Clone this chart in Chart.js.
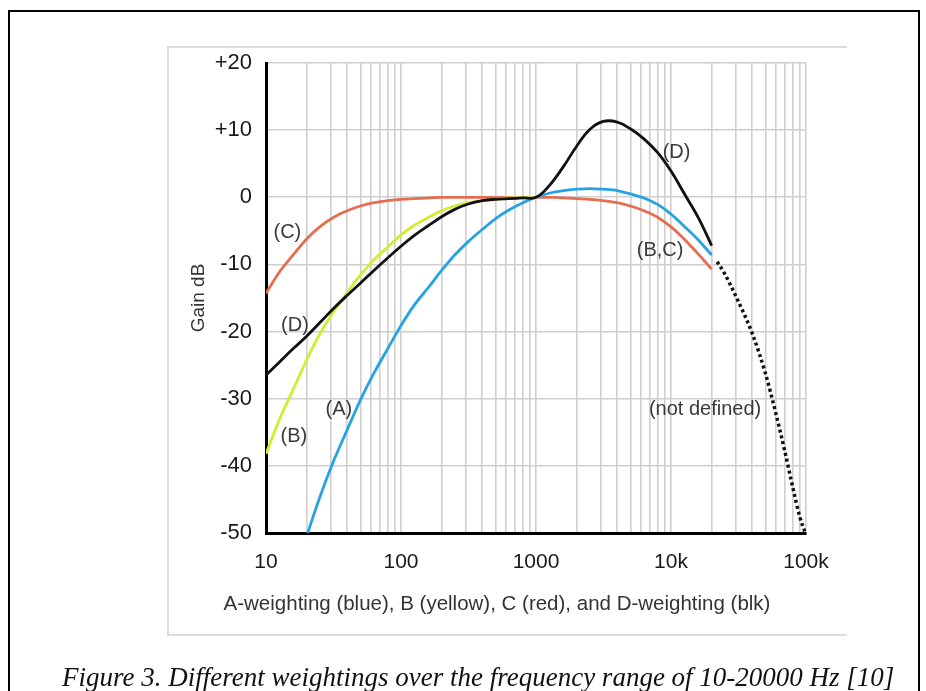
<!DOCTYPE html>
<html>
<head>
<meta charset="utf-8">
<title>Weighting curves</title>
<script src="https://cdn.jsdelivr.net/npm/chart.js@4.4.1/dist/chart.umd.min.js"></script>
<style>
  html, body { margin: 0; padding: 0; background: #fff; overflow: hidden; }
  #frame { position: absolute; left: 8px; top: 10px; width: 908px; height: 720px; border: 2px solid #000; border-bottom: none; }
  #panel { position: absolute; left: 167px; top: 46px; width: 678px; height: 586px; border: 2px solid #dcdcdc; border-right: none; }
  #caption { position: absolute; left: 62px; top: 662px; font: italic 27px "Liberation Serif", "Times New Roman", serif; color: #111; white-space: nowrap; }
  canvas { position: absolute; left: 0; top: 0; }
</style>
</head>
<body>
<div id="frame"></div>
<div id="panel"></div>
<canvas id="weightChart" width="926" height="691"></canvas>
<div id="caption">Figure 3. Different weightings over the frequency range of 10-20000 Hz [10]</div>
<script>
// third-octave frequencies (Hz) and gains (dB)
const freqs = [10, 12.5, 16, 20, 25, 31.5, 40, 50, 63, 80, 100, 125, 160, 200, 250, 315, 400, 500, 630, 800,
               1000, 1250, 1600, 2000, 2500, 3150, 4000, 5000, 6300, 8000, 10000, 12500, 16000, 20000];
const aWeighting = [-70.4, -63.4, -56.7, -50.5, -44.7, -39.4, -34.6, -30.2, -26.2, -22.5, -19.1, -16.1, -13.4, -10.9, -8.6, -6.6, -4.8, -3.2, -1.9, -0.8,
                    0, 0.6, 1.0, 1.2, 1.3, 1.2, 1.0, 0.5, -0.1, -1.1, -2.5, -4.3, -6.4, -8.6];
// B only drawn up to 1 kHz, above that it sits under C
const bWeighting = [-38.2, -33.2, -28.5, -24.2, -20.4, -17.1, -14.2, -11.6, -9.3, -7.4, -5.6, -4.2, -3.0, -2.0, -1.3, -0.8, -0.5, -0.3, -0.1, 0,
                    0];
const cWeighting = [-14.3, -11.2, -8.5, -6.2, -4.4, -3.0, -2.0, -1.3, -0.8, -0.5, -0.3, -0.2, -0.1, 0, 0, 0, 0, 0, 0, 0,
                    0, 0, -0.1, -0.2, -0.3, -0.5, -0.8, -1.3, -2.0, -3.0, -4.4, -6.2, -8.5, -10.7];
const dWeighting = [-26.5, -24.6, -22.5, -20.7, -18.7, -16.6, -14.6, -12.8, -10.9, -9.0, -7.3, -5.7, -4.2, -2.9, -1.8, -1.0, -0.5, -0.3, -0.2, -0.1,
                    0, 1.7, 4.6, 7.6, 10.1, 11.3, 11.2, 10.2, 8.7, 6.6, 3.9, 0.6, -3.1, -7.2];
// dotted "not defined" tail
const tailFreqs = [22000, 25000, 30000, 40000, 50000, 60000, 70000, 80000, 90000, 100000];
const tailGains = [-9.6, -11.4, -14.6, -20.3, -26.2, -32.3, -38.0, -43.3, -47.6, -50.3];

const xTickLabels = ['10', '100', '1000', '10k', '100k'];
const yTickLabels = ['-50', '-40', '-30', '-20', '-10', '0', '+10', '+20'];
const xTitle = 'A-weighting (blue), B (yellow), C (red), and D-weighting (blk)';

const curveLabels = ['(C)', '(D)', '(B)', '(A)', '(D)', '(B,C)', '(not defined)'];
const labelFreqs = [14.4, 16.4, 16.1, 34.7, 11000, 8300, 17870];
const labelGains = [-5.2, -19.1, -35.6, -31.6, 6.7, -7.9, -31.6];

const fontFamily = '"Liberation Sans", Arial, Helvetica, sans-serif';

function toPoints(xs, ys) {
    return ys.map((y, i) => ({ x: xs[i], y: y }));
}

const curveLabelPlugin = {
    id: 'curveLabels',
    afterDatasetsDraw(chart) {
        const ctx = chart.ctx;
        const xs = chart.scales.x;
        const ys = chart.scales.y;
        ctx.save();
        ctx.font = '20px ' + fontFamily;
        ctx.fillStyle = '#3a3a3a';
        ctx.textAlign = 'center';
        ctx.textBaseline = 'middle';
        curveLabels.forEach((t, i) => {
            ctx.fillText(t, xs.getPixelForValue(labelFreqs[i]), ys.getPixelForValue(labelGains[i]));
        });
        // x axis title sits a bit left of the plot centre in the original
        ctx.font = '20.5px ' + fontFamily;
        ctx.fillStyle = '#333';
        ctx.fillText(xTitle, 497, 604);
        ctx.restore();
    }
};

const lineStyle = { pointRadius: 0, borderWidth: 2.8, cubicInterpolationMode: 'monotone', fill: false };

new Chart(document.getElementById('weightChart'), {
    type: 'line',
    data: {
        datasets: [
            // D keeps a plain tension curve so the hump stays round
            Object.assign({ label: 'D', data: toPoints(freqs, dWeighting), borderColor: '#111111' },
                lineStyle, { cubicInterpolationMode: 'default', tension: 0.4 }),
            Object.assign({ label: 'A', data: toPoints(freqs, aWeighting), borderColor: '#27a3e3' }, lineStyle),
            Object.assign({ label: 'B', data: toPoints(freqs, bWeighting), borderColor: '#d4ec30' }, lineStyle),
            Object.assign({ label: 'C', data: toPoints(freqs, cWeighting), borderColor: '#e66e50' }, lineStyle),
            Object.assign({ label: 'not defined', data: toPoints(tailFreqs, tailGains), borderColor: '#111111' },
                lineStyle, { borderWidth: 3.5, borderDash: [3, 3] })
        ]
    },
    options: {
        responsive: false,
        animation: false,
        devicePixelRatio: 1,
        layout: { padding: { left: 180, right: 120, top: 63, bottom: 76 } },
        plugins: { legend: { display: false }, tooltip: { enabled: false } },
        scales: {
            x: {
                type: 'logarithmic',
                min: 10,
                max: 100000,
                afterBuildTicks: (scale) => {
                    // grid at 1..9 of every decade
                    const t = [];
                    for (let e = 1; e < 5; e++) {
                        for (let s = 1; s < 10; s++) t.push({ value: s * Math.pow(10, e) });
                    }
                    t.push({ value: 100000 });
                    scale.ticks = t;
                },
                afterFit: (scale) => { scale.height = 82; },
                grid: { color: '#cfcfcf', lineWidth: 1.6, drawTicks: false },
                border: { color: '#000', width: 3 },
                ticks: {
                    autoSkip: false,
                    maxRotation: 0,
                    padding: 17,
                    color: '#1a1a1a',
                    font: { family: fontFamily, size: 21 },
                    callback: (value) => {
                        const p = Math.log10(value);
                        if (Math.abs(p - Math.round(p)) > 1e-9) return '';
                        return xTickLabels[Math.round(p) - 1];
                    }
                }
            },
            y: {
                min: -50,
                max: 20,
                afterFit: (scale) => { scale.width = 86; },
                grid: { color: '#cfcfcf', lineWidth: 1.6, drawTicks: false },
                border: { color: '#000', width: 3 },
                ticks: {
                    stepSize: 10,
                    padding: 14,
                    color: '#1a1a1a',
                    font: { family: fontFamily, size: 22 },
                    callback: (value, index) => yTickLabels[index]
                },
                title: {
                    display: true,
                    text: 'Gain dB',
                    color: '#333',
                    font: { family: fontFamily, size: 19 },
                    padding: { top: 7, bottom: 0 }
                }
            }
        }
    },
    plugins: [curveLabelPlugin]
});
</script>
</body>
</html>
